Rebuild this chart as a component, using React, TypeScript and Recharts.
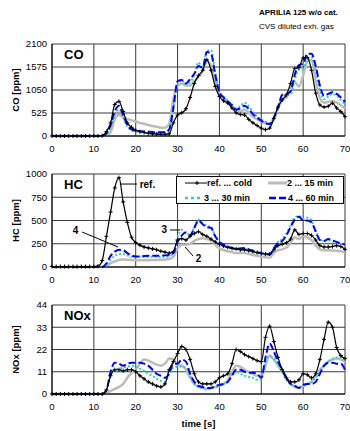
import React from 'react';
import {
  LineChart,
  Line,
  XAxis,
  YAxis,
  CartesianGrid,
  ReferenceLine,
  ReferenceDot
} from 'recharts';

// time axis, 1 s steps
const times = [
  0, 1, 2, 3, 4, 5, 6, 7, 8, 9, 10, 11, 12, 13, 14, 15, 16, 17, 18, 19,
  20, 21, 22, 23, 24, 25, 26, 27, 28, 29, 30, 31, 32, 33, 34, 35, 36, 37, 38, 39,
  40, 41, 42, 43, 44, 45, 46, 47, 48, 49, 50, 51, 52, 53, 54, 55, 56, 57, 58, 59,
  60, 61, 62, 63, 64, 65, 66, 67, 68, 69, 70
];
const xTicks = [0, 10, 20, 30, 40, 50, 60, 70];

// CO [ppm]
const coTicks = [0, 525, 1050, 1575, 2100];
const coRef = [
  0, 0, 0, 0, 0, 0, 0, 0, 0, 0,
  0, 0, 10, 100, 300, 720, 790, 560, 300, 200,
  130, 100, 80, 60, 50, 45, 40, 40, 50, 300,
  480, 530, 620, 880, 1200, 1380, 1500, 1740, 1500, 1130,
  900, 800, 750, 640, 530, 490, 480, 380, 300, 240,
  180, 145, 180, 400, 660, 820, 940, 1200, 1540, 1560,
  1780, 1790, 1500, 980, 710, 660, 680, 750, 640, 560,
  440
];
const co15 = [
  0, 0, 0, 0, 0, 0, 0, 0, 0, 0,
  0, 0, 0, 20, 90, 380, 480, 430, 390, 360,
  330, 300, 280, 250, 230, 210, 190, 190, 280, 850,
  1150, 1200, 1150, 1150, 1250, 1350, 1480, 1700, 1600, 1200,
  950, 850, 770, 680, 610, 560, 600, 540, 440, 380,
  330, 290, 280, 380, 620, 840, 880, 1100, 1230, 1130,
  1380, 1700, 1740, 1250, 860, 760, 780, 800, 760, 700,
  630
];
const co30 = [
  0, 0, 0, 0, 0, 0, 0, 0, 0, 0,
  0, 0, 0, 40, 200, 480, 600, 430, 220, 130,
  100, 90, 80, 75, 70, 70, 70, 75, 120, 600,
  1180, 1270, 1180, 1230, 1400, 1680, 1520, 1960, 1960, 1450,
  1020, 900, 800, 720, 640, 680, 760, 680, 540, 450,
  380, 320, 300, 420, 640, 900, 930, 960, 1300, 1520,
  1560, 1760, 1800, 1500, 1050, 840, 900, 960, 920, 820,
  720
];
const co60 = [
  0, 0, 0, 0, 0, 0, 0, 0, 0, 0,
  0, 0, 0, 60, 250, 560, 690, 480, 250, 150,
  120, 110, 100, 95, 90, 85, 85, 90, 150, 650,
  1250, 1280, 1200, 1300, 1420, 1600, 1560, 1920, 1880, 1400,
  1000, 880, 790, 700, 600, 630, 690, 620, 500, 420,
  350, 290, 270, 420, 660, 940, 960, 1020, 1400, 1620,
  1650, 1880, 1880, 1600, 1150, 920, 960, 1000, 960, 880,
  780
];

// HC [ppm]
const hcTicks = [0, 250, 500, 750, 1000];
const hcRef = [
  5, 5, 5, 5, 5, 5, 5, 5, 5, 5,
  5, 10, 70, 330, 590, 850, 960, 700, 480, 320,
  262, 235, 215, 205, 195, 185, 170, 160, 150, 165,
  290, 305, 290, 330, 360, 380, 350, 330, 300, 270,
  245, 225, 210, 200, 195, 185, 185, 175, 165, 155,
  145, 140, 140, 185, 230, 245, 260, 300, 400, 350,
  360, 360, 340, 290, 230, 215, 215, 220, 230, 220,
  190
];
const hc15 = [
  0, 0, 0, 0, 0, 0, 0, 0, 0, 0,
  0, 0, 0, 10, 40, 60, 75, 80, 78, 75,
  72, 72, 72, 73, 75, 76, 78, 80, 85, 110,
  200, 240, 240, 250, 280, 300, 310, 300, 280, 240,
  200, 180, 170, 160, 150, 150, 150, 140, 130, 120,
  112, 105, 100, 150, 180, 190, 210, 260, 320, 300,
  330, 320, 290, 230, 190, 180, 180, 178, 175, 170,
  160
];
const hc30 = [
  0, 0, 0, 0, 0, 0, 0, 0, 0, 0,
  0, 0, 0, 25, 80, 120, 140, 140, 125, 110,
  105, 110, 110, 110, 110, 110, 110, 110, 115, 160,
  320, 400, 360, 350, 430, 510, 470, 440, 430, 330,
  265, 235, 215, 200, 190, 195, 195, 185, 170, 155,
  145, 135, 130, 200, 270, 300, 360, 450, 530, 550,
  520, 530, 500, 390, 300, 280, 290, 275, 265, 250,
  230
];
const hc60 = [
  0, 0, 0, 0, 0, 0, 0, 0, 0, 0,
  0, 0, 0, 40, 120, 165, 185, 180, 150, 125,
  112, 115, 118, 120, 120, 120, 122, 125, 130, 150,
  270, 340, 370, 340, 420, 500, 460, 430, 420, 330,
  270, 240, 220, 205, 195, 200, 205, 190, 175, 160,
  150, 140, 135, 200, 260, 280, 340, 430, 510, 540,
  500, 500, 480, 380, 290, 280, 300, 285, 270, 255,
  240
];

// NOx [ppm]
const noxTicks = [0, 11, 22, 33, 44];
const noxRef = [
  0, 0, 0, 0, 0, 0, 0, 0, 0, 0,
  0, 0, 0, 2, 9, 12, 12, 11.5, 12, 12,
  11, 9, 7.5, 6, 5, 4, 3.5, 5, 12, 16,
  20, 23.5, 22, 17, 10, 6, 5, 5, 5, 6,
  8, 9, 10, 15, 22, 21, 19.5, 18.5, 17.5, 16.5,
  16, 28, 33.5, 26, 18, 12, 8, 6, 6, 7,
  10, 9.5, 8, 10, 17, 27, 35.5, 33, 23, 19,
  17.5
];
const nox15 = [
  0, 0, 0, 0, 0, 0, 0, 0, 0, 0,
  0, 0, 0, 0.5, 1.5, 2.5, 3.5, 5, 8, 10.5,
  12, 15, 17, 16.5, 15.5, 14.5, 14, 15, 17.5, 17,
  14.5, 14, 12, 8, 5, 3.5, 3, 2.5, 3, 3.5,
  4, 5, 7, 11, 14, 13.5, 12, 11, 10, 9,
  9, 14, 19, 17, 14, 11, 8, 5, 3.5, 3,
  4, 5, 6, 9, 12, 14, 16, 17, 17.5, 17,
  16
];
const nox30 = [
  0, 0, 0, 0, 0, 0, 0, 0, 0, 0,
  0, 0, 0, 2, 9, 12, 12.5, 13, 13.5, 14,
  13.5, 12.5, 11.5, 10, 9, 7.5, 6.5, 6, 10, 13,
  13.5, 13.5, 13, 9, 5, 3.5, 3, 2.5, 3, 3.5,
  4, 5, 6, 10, 11, 10, 9, 8.5, 8, 7,
  7, 16, 18.5, 17.5, 15, 11, 7, 5, 4, 3.5,
  4, 5, 6, 8, 11, 14, 16, 17.5, 18, 18,
  16.5
];
const nox60 = [
  0, 0, 0, 0, 0, 0, 0, 0, 0, 0,
  0, 0, 0, 2, 11, 15.5, 15, 14, 15, 15.5,
  15.5, 15.5, 15, 14, 12, 10, 9, 8, 10, 15,
  15, 17, 16, 10, 6, 4, 3.5, 3, 3, 4,
  4.5, 5, 6, 9, 12, 12, 11, 10.5, 10.5, 10,
  8, 18, 25, 21, 16, 12, 8, 5, 4, 3,
  4.5, 5, 5, 6, 10, 14, 15.5, 15.5, 15, 15,
  12
];

const makeRows = (ref: number[], m15: number[], m30: number[], m60: number[]) =>
  times.map((t, i) => ({ t, ref: ref[i], m15: m15[i], m30: m30[i], m60: m60[i] }));

const coRows = makeRows(coRef, co15, co30, co60);
const hcRows = makeRows(hcRef, hc15, hc30, hc60);
const noxRows = makeRows(noxRef, nox15, nox30, nox60);

const FONT = '"Liberation Sans", Arial, sans-serif';
const GRAY = '#bdbdb5';
const CYAN = '#33cccc';
const BLUE = '#0000ff';

// "+" marker for the reference curve
const plusDot = (p: any) => {
  const { cx, cy, index } = p;
  if (cx == null || cy == null) return <g key={index} />;
  return (
    <path
      key={index}
      d={`M${cx - 2},${cy}h4M${cx},${cy - 2}v4`}
      stroke="#000"
      strokeWidth={1}
      fill="none"
    />
  );
};

const series = () => [
  <Line key="m15" type="monotone" dataKey="m15" stroke={GRAY} strokeWidth={2.5} dot={false} isAnimationActive={false} />,
  <Line key="m30" type="monotone" dataKey="m30" stroke={CYAN} strokeWidth={2} strokeDasharray="2 2" dot={false} isAnimationActive={false} />,
  <Line key="m60" type="monotone" dataKey="m60" stroke={BLUE} strokeWidth={2} strokeDasharray="7 3" dot={false} isAnimationActive={false} />,
  <Line key="ref" type="monotone" dataKey="ref" stroke="#000" strokeWidth={1.2} dot={plusDot} isAnimationActive={false} />
];

const note = (text: string) => (p: any) => (
  <text
    x={p.cx}
    y={p.cy}
    textAnchor="middle"
    dominantBaseline="central"
    fontSize={10}
    fontWeight="bold"
    fontFamily={FONT}
    fill="#000"
  >
    {text}
  </text>
);

interface PanelProps {
  top: number;
  plotH: number;
  rows: any[];
  max: number;
  ticks: number[];
  yLabel: string;
  title: string;
  children?: React.ReactNode;
}

const Panel = ({ top, plotH, rows, max, ticks, yLabel, title, children }: PanelProps) => {
  const mTop = 6;
  return (
    <div style={{ position: 'absolute', left: 0, top: top - mTop }}>
      <LineChart
        width={350}
        height={mTop + plotH + 22}
        data={rows}
        margin={{ top: mTop, right: 5, bottom: 0, left: 0 }}
        style={{ fontFamily: FONT }}
      >
        <CartesianGrid stroke="#3a3a3a" strokeWidth={1} />
        <XAxis
          dataKey="t"
          type="number"
          domain={[0, 70]}
          ticks={xTicks}
          interval={0}
          height={22}
          tickLine={false}
          tickSize={6}
          tickMargin={3}
          axisLine={{ stroke: '#000' }}
          tick={{ fontSize: 9.5, fill: '#000' }}
        />
        <YAxis
          type="number"
          domain={[0, max]}
          ticks={ticks}
          interval={0}
          width={52}
          tickLine={false}
          tickSize={5}
          tickMargin={0}
          axisLine={{ stroke: '#000' }}
          tick={{ fontSize: 9.5, fill: '#000' }}
          label={{
            value: yLabel,
            angle: -90,
            position: 'insideLeft',
            offset: 16,
            style: { textAnchor: 'middle', fontSize: 9.5, fontWeight: 'bold', fill: '#000' }
          }}
        />
        {series()}
        {children}
      </LineChart>
      <div
        style={{
          position: 'absolute',
          left: 64,
          top: mTop + 3,
          fontFamily: FONT,
          fontWeight: 'bold',
          fontSize: 13,
          lineHeight: '16px'
        }}
      >
        {title}
      </div>
    </div>
  );
};

const LegendBox = () => (
  <div
    style={{
      position: 'absolute',
      left: 176,
      top: 176,
      width: 168,
      height: 28,
      boxSizing: 'border-box',
      border: '1px solid #000',
      background: '#fff',
      fontFamily: FONT,
      fontWeight: 'bold',
      fontSize: 9,
      color: '#000'
    }}
  >
    <svg width={168} height={28} style={{ position: 'absolute', left: -1, top: -1 }}>
      <line x1={9} y1={7} x2={31} y2={7} stroke="#000" strokeWidth={1} />
      <path d="M19,7h4M21,5v4" stroke="#000" strokeWidth={1} />
      <line x1={92} y1={7} x2={111} y2={7} stroke={GRAY} strokeWidth={3} />
      <line x1={9} y1={22} x2={27} y2={22} stroke={CYAN} strokeWidth={2.5} strokeDasharray="3 3" />
      <line x1={93} y1={22} x2={111} y2={22} stroke={BLUE} strokeWidth={2.5} strokeDasharray="7 3" />
      <text x={31} y={7} dominantBaseline="central">ref. ... cold</text>
      <text x={111} y={7} dominantBaseline="central">2 ... 15 min</text>
      <text x={28} y={22} dominantBaseline="central">3 ... 30 min</text>
      <text x={112} y={22} dominantBaseline="central">4 ... 60 min</text>
    </svg>
  </div>
);

const App = () => {
  return (
    <div style={{ position: 'absolute', left: 0, top: 0, width: 350, height: 431, background: '#fff', fontFamily: FONT }}>
      <div style={{ position: 'absolute', left: 259, top: 8, fontSize: 8, fontWeight: 'bold', lineHeight: '10px' }}>
        APRILIA 125 w/o cat.
      </div>
      <div style={{ position: 'absolute', left: 259, top: 22, fontSize: 8, lineHeight: '10px' }}>
        CVS diluted exh. gas
      </div>

      <Panel top={44} plotH={92} rows={coRows} max={2100} ticks={coTicks} yLabel="CO [ppm]" title="CO" />

      <Panel top={174} plotH={93} rows={hcRows} max={1000} ticks={hcTicks} yLabel="HC [ppm]" title="HC">
        <ReferenceLine segment={[{ x: 16.2, y: 892 }, { x: 20.3, y: 892 }]} stroke="#000" strokeWidth={1} />
        <ReferenceDot x={22.8} y={892} r={0} shape={note('ref.')} />
        <ReferenceLine segment={[{ x: 7.2, y: 376 }, { x: 15.8, y: 215 }]} stroke="#000" strokeWidth={1} />
        <ReferenceDot x={5.6} y={390} r={0} shape={note('4')} />
        <ReferenceLine segment={[{ x: 28.2, y: 398 }, { x: 30.6, y: 398 }]} stroke="#000" strokeWidth={1} />
        <ReferenceDot x={26.8} y={398} r={0} shape={note('3')} />
        <ReferenceLine segment={[{ x: 31.8, y: 215 }, { x: 33.7, y: 118 }]} stroke="#000" strokeWidth={1} />
        <ReferenceDot x={35} y={95} r={0} shape={note('2')} />
      </Panel>
      <LegendBox />

      <Panel top={305} plotH={89} rows={noxRows} max={44} ticks={noxTicks} yLabel="NOx [ppm]" title="NOx" />

      <div
        style={{
          position: 'absolute',
          left: 52,
          width: 293,
          top: 418,
          textAlign: 'center',
          fontSize: 9.5,
          fontWeight: 'bold',
          lineHeight: '12px'
        }}
      >
        time [s]
      </div>
    </div>
  );
};

export default App;
